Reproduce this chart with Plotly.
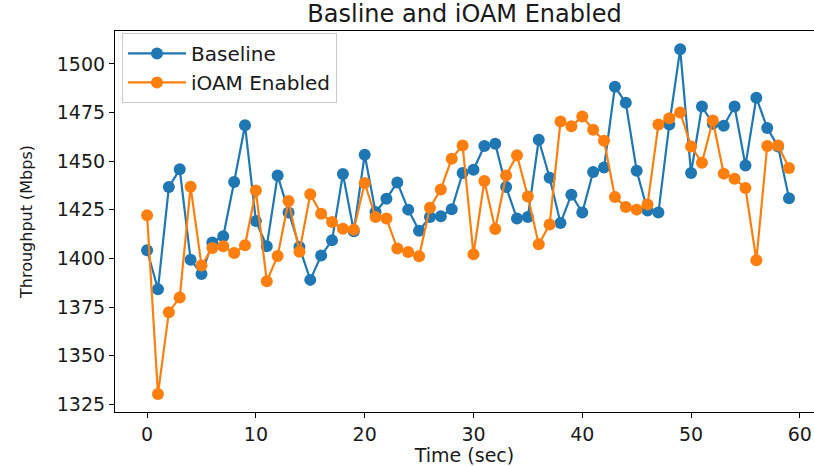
import plotly.graph_objects as go

time_sec = list(range(60))
baseline = [1404.2, 1384.2, 1436.7, 1445.8, 1399.4, 1392.0, 1408.2, 1411.4, 1439.3, 1468.5,
            1419.3, 1406.3, 1442.6, 1423.6, 1405.9, 1389.0, 1401.5, 1409.3, 1443.4, 1414.0,
            1453.3, 1423.9, 1430.7, 1439.1, 1425.1, 1414.3, 1421.3, 1421.7, 1425.3, 1443.9,
            1445.6, 1457.8, 1459.0, 1436.7, 1420.5, 1421.3, 1461.0, 1441.5, 1418.2, 1432.8,
            1423.6, 1444.4, 1446.7, 1488.3, 1480.0, 1445.1, 1424.6, 1423.6, 1468.9, 1507.5,
            1443.9, 1478.1, 1469.2, 1468.2, 1478.1, 1447.8, 1482.6, 1467.0, 1457.5, 1431.0]
ioam = [1422.2, 1330.3, 1372.4, 1379.9, 1436.9, 1396.4, 1405.4, 1406.3, 1402.8, 1406.8,
        1434.9, 1388.3, 1401.3, 1429.5, 1403.5, 1433.0, 1423.0, 1418.7, 1415.3, 1414.8,
        1438.8, 1421.3, 1420.5, 1405.1, 1403.3, 1401.1, 1426.1, 1435.5, 1451.3, 1458.1,
        1402.2, 1439.8, 1415.1, 1442.7, 1453.0, 1431.9, 1407.3, 1417.4, 1470.4, 1467.9,
        1473.0, 1466.2, 1460.5, 1431.6, 1426.4, 1425.1, 1427.8, 1468.9, 1472.1, 1475.0,
        1457.6, 1449.2, 1470.9, 1443.6, 1441.0, 1436.2, 1399.1, 1457.8, 1458.1, 1446.5]

x_ticks = [0, 10, 20, 30, 40, 50, 60]
y_ticks = [1325, 1350, 1375, 1400, 1425, 1450, 1475, 1500]

FONT = "DejaVu Sans"

fig = go.Figure()
fig.add_trace(go.Scatter(x=time_sec, y=baseline, mode="lines+markers", name="Baseline",
                         line=dict(color="#1f77b4", width=2.2),
                         marker=dict(color="#1f77b4", size=12)))
fig.add_trace(go.Scatter(x=time_sec, y=ioam, mode="lines+markers", name="iOAM Enabled",
                         line=dict(color="#ff7f0e", width=2.2),
                         marker=dict(color="#ff7f0e", size=12)))

fig.update_layout(
    width=814, height=466,
    margin=dict(l=115, r=0, t=31, b=54),
    paper_bgcolor="white", plot_bgcolor="white",
    font=dict(family=FONT, size=18, color="#1a1a1a"),
    title=dict(text="Basline and iOAM Enabled", x=0.5, xref="paper", xanchor="center",
               y=1 - 14 / 466, yref="container", yanchor="middle",
               font=dict(family=FONT, size=24, color="#1a1a1a")),
    showlegend=True,
    legend=dict(x=0.01, y=0.995, xanchor="left", yanchor="top", itemwidth=58,
                bgcolor="rgba(255,255,255,0.8)", bordercolor="#cccccc", borderwidth=1,
                font=dict(family=FONT, size=20, color="#1a1a1a")),
)
fig.update_xaxes(range=[-2.95, 61.3], tickvals=x_ticks, ticks="outside", ticklen=5,
                 tickcolor="black", showline=True, linecolor="black", linewidth=1.2,
                 mirror=True, showgrid=False, zeroline=False,
                 tickfont=dict(family=FONT, size=19),
                 title=dict(text="Time (sec)", font=dict(family=FONT, size=19), standoff=4))
fig.update_yaxes(range=[1321.1, 1516.9], tickvals=y_ticks, ticks="outside", ticklen=5,
                 tickcolor="black", showline=True, linecolor="black", linewidth=1.2,
                 showgrid=False, zeroline=False,
                 tickfont=dict(family=FONT, size=19),
                 title=dict(text="Throughput (Mbps)", font=dict(family=FONT, size=16), standoff=20))

fig.write_html("out.html")
